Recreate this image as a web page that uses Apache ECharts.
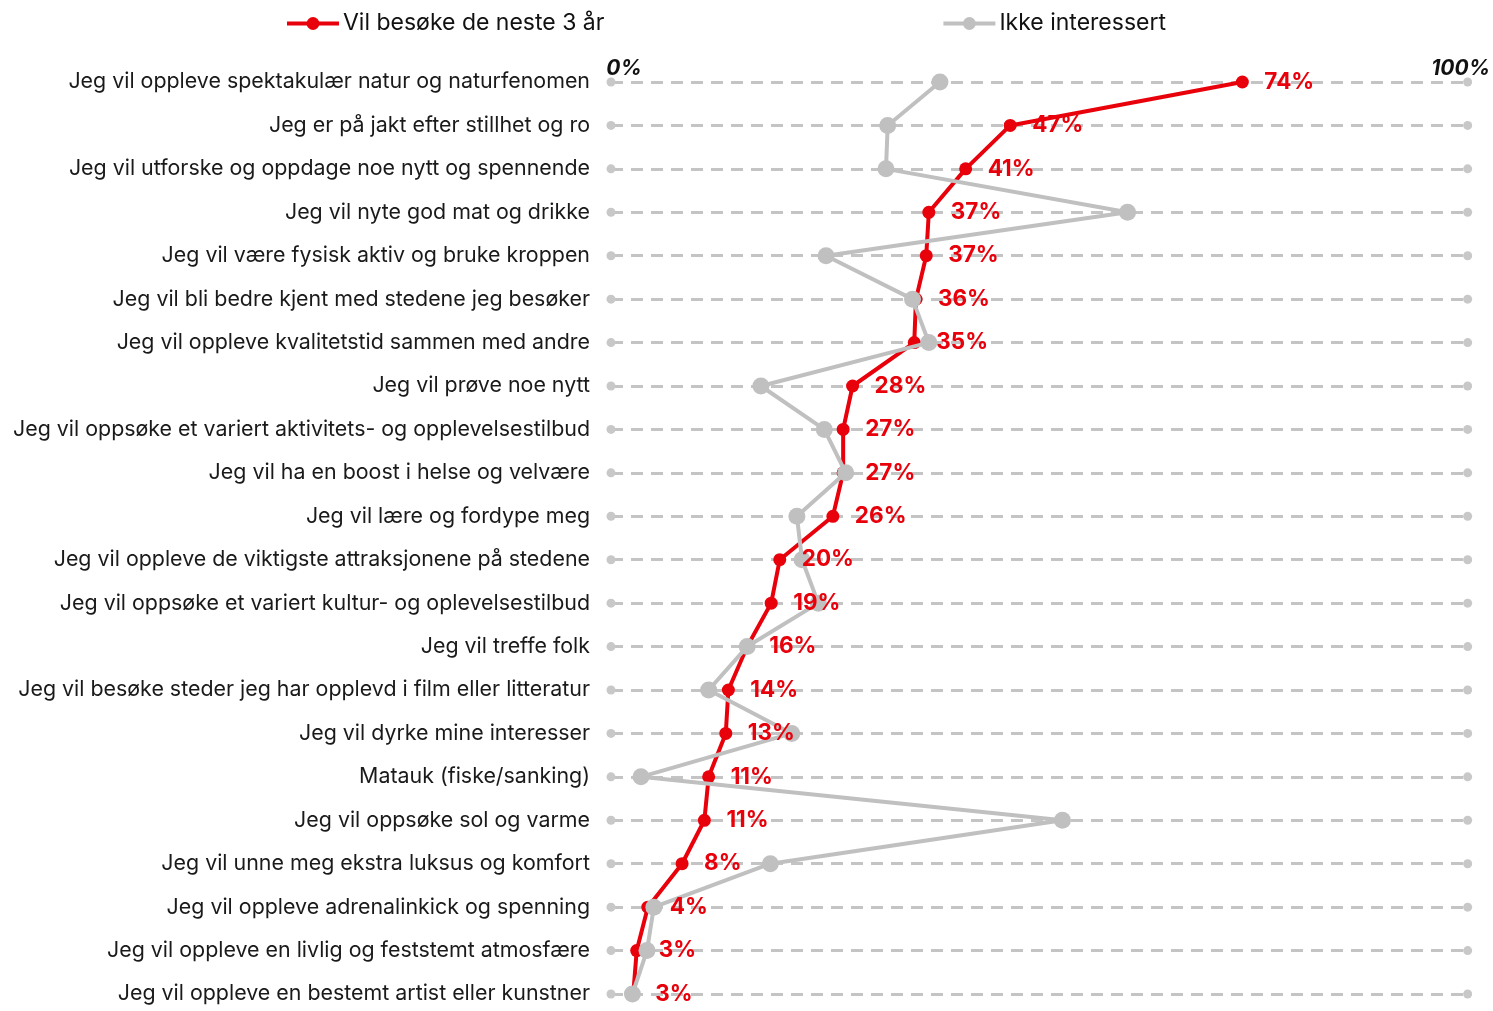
<!DOCTYPE html>
<html><head><meta charset="utf-8">
<script src="https://cdn.jsdelivr.net/npm/echarts@6/dist/echarts.min.js"></script>
<style>html,body{margin:0;padding:0;background:#fff}#c{width:1493px;height:1011px}</style>
</head><body><div id="c"></div>
<script>
const categories = [
  "Jeg vil oppleve spektakulær natur og naturfenomen",
  "Jeg er på jakt efter stillhet og ro",
  "Jeg vil utforske og oppdage noe nytt og spennende",
  "Jeg vil nyte god mat og drikke",
  "Jeg vil være fysisk aktiv og bruke kroppen",
  "Jeg vil bli bedre kjent med stedene jeg besøker",
  "Jeg vil oppleve kvalitetstid sammen med andre",
  "Jeg vil prøve noe nytt",
  "Jeg vil oppsøke et variert aktivitets- og opplevelsestilbud",
  "Jeg vil ha en boost i helse og velvære",
  "Jeg vil lære og fordype meg",
  "Jeg vil oppleve de viktigste attraksjonene på stedene",
  "Jeg vil oppsøke et variert kultur- og oplevelsestilbud",
  "Jeg vil treffe folk",
  "Jeg vil besøke steder jeg har opplevd i film eller litteratur",
  "Jeg vil dyrke mine interesser",
  "Matauk (fiske/sanking)",
  "Jeg vil oppsøke sol og varme",
  "Jeg vil unne meg ekstra luksus og komfort",
  "Jeg vil oppleve adrenalinkick og spenning",
  "Jeg vil oppleve en livlig og feststemt atmosfære",
  "Jeg vil oppleve en bestemt artist eller kunstner"
];
const visitValues = [73.7,46.6,41.4,37.1,36.8,35.6,35.4,28.2,27.1,27.1,25.9,19.7,18.7,15.9,13.7,13.4,11.4,10.9,8.3,4.3,3.0,2.6];
const notInterested = [38.4,32.3,32.1,60.3,25.1,35.2,37.1,17.5,24.9,27.4,21.7,22.3,24.2,15.9,11.4,21.1,3.5,52.7,18.6,5.0,4.2,2.5];
const seriesNames = ["Vil besøke de neste 3 år", "Ikke interessert"];
const axisTicks = [0, 100];

const RED = '#e8000b', GRAY = '#c0c0c0';
const FONT = 'Inter';
const chart = echarts.init(document.getElementById('c'));
const endDots = [];
categories.forEach(c => axisTicks.forEach(t => endDots.push([t, c])));

chart.setOption({
  animation: false,
  textStyle: {fontFamily: FONT},
  legend: {
    data: [
      {name: seriesNames[0], itemStyle: {color: RED}, lineStyle: {color: RED, width: 4}},
      {name: seriesNames[1], itemStyle: {color: GRAY}, lineStyle: {color: GRAY, width: 4}}
    ],
    left: 280, top: 7, itemGap: 337, itemWidth: 52, itemHeight: 16,
    textStyle: {fontSize: 23, color: '#111', fontFamily: FONT, padding: [0,0,0,-1]}
  },
  grid: {left: 611, right: 25, top: 82, bottom: 17, containLabel: false},
  xAxis: {
    type: 'value', min: axisTicks[0], max: axisTicks[1], interval: 100, position: 'top',
    axisLine: {show: false}, axisTick: {show: false}, splitLine: {show: false},
    axisLabel: {
      margin: 3, fontSize: 21, fontWeight: 'bold', fontStyle: 'italic', color: '#111',
      formatter: v => v === 0 ? '{a|' + v + '%}' : '{b|' + v + '%}',
      rich: {a: {fontSize: 21, fontWeight: 'bold', fontStyle: 'italic', color: '#111', fontFamily: FONT, padding: [0,0,0,26]},
             b: {fontSize: 21, fontWeight: 'bold', fontStyle: 'italic', color: '#111', fontFamily: FONT, padding: [0,14,0,0]}}
    }
  },
  yAxis: {
    type: 'category', data: categories, inverse: true, boundaryGap: false,
    axisLine: {show: false}, axisTick: {show: false},
    axisLabel: {margin: 21, fontSize: 21.4, color: '#1a1a1a', fontFamily: FONT, padding: [0,0,9,0]},
    splitLine: {show: true, lineStyle: {color: '#c4c4c4', width: 3, type: [12, 8]}}
  },
  series: [
    {
      type: 'scatter', data: endDots, symbolSize: 9, itemStyle: {color: '#c8c8c8', opacity: 1},
      silent: true, z: 1
    },
    {
      name: seriesNames[0], type: 'line', data: visitValues.map((v, i) => [v, categories[i]]),
      symbol: 'circle', symbolSize: 13, itemStyle: {color: RED},
      lineStyle: {color: RED, width: 4}, z: 2
    },
    {
      name: seriesNames[1], type: 'line', data: notInterested.map((v, i) => [v, categories[i]]),
      symbol: 'circle', symbolSize: 17, itemStyle: {color: GRAY},
      lineStyle: {color: GRAY, width: 4}, z: 3
    },
    {
      name: 'labels', type: 'scatter', data: visitValues.map((v, i) => [v, categories[i]]),
      symbolSize: 2, itemStyle: {color: 'rgba(0,0,0,0)', opacity: 1}, z: 5, silent: true,
      label: {show: true, position: 'right', distance: 21, color: RED, fontSize: 22.5, opacity: 1,
        fontWeight: 'bold', fontFamily: FONT, formatter: p => Math.round(p.value[0]) + '%'}
    }
  ]
});
</script></body></html>
